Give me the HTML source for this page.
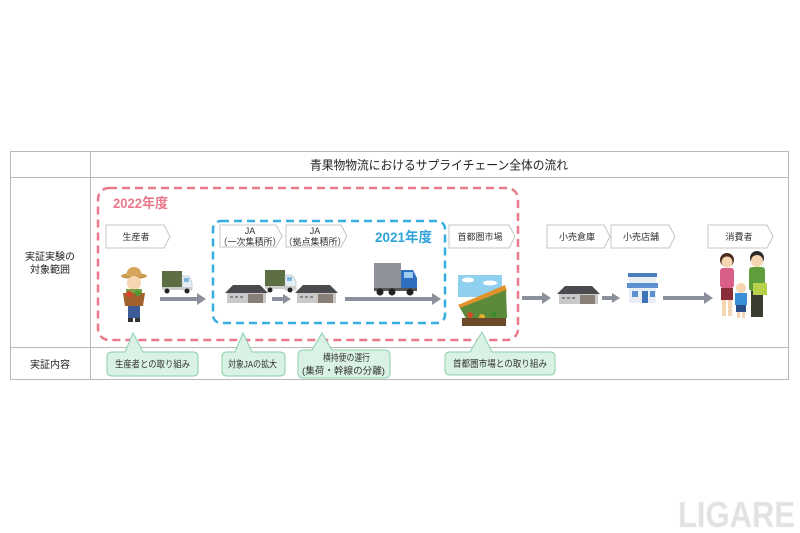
<!DOCTYPE html>
<html><head><meta charset="utf-8">
<style>
html,body{margin:0;padding:0;background:#fff;}
svg{display:block;}
text{font-family:"Liberation Sans","Noto Sans CJK JP",sans-serif;}
</style></head>
<body>
<svg width="800" height="533" viewBox="0 0 800 533" xmlns="http://www.w3.org/2000/svg">
<rect width="800" height="533" fill="#fff"/>
<!-- table -->
<g stroke="#b8b8b8" stroke-width="1" fill="none">
<rect x="10.5" y="151.5" width="778" height="228"/>
<line x1="90.5" y1="151.5" x2="90.5" y2="379.5"/>
<line x1="10.5" y1="177.5" x2="788.5" y2="177.5"/>
<line x1="10.5" y1="347.5" x2="788.5" y2="347.5"/>
</g>
<text x="310" y="169.5" font-size="12.5" fill="#222" textLength="258" lengthAdjust="spacingAndGlyphs">青果物物流におけるサプライチェーン全体の流れ</text>
<text x="50" y="260" font-size="10" text-anchor="middle" fill="#222">実証実験の</text>
<text x="50" y="273" font-size="10" text-anchor="middle" fill="#222">対象範囲</text>
<text x="50" y="368" font-size="10" text-anchor="middle" fill="#222">実証内容</text>

<!-- dashed boxes -->
<rect x="98" y="188" width="420" height="152" rx="11" fill="none" stroke="#e9798b" stroke-width="2.5" stroke-dasharray="8 5"/>
<rect x="213" y="221" width="232" height="102" rx="8" fill="none" stroke="#37ade0" stroke-width="2.5" stroke-dasharray="8 5"/>
<text x="113" y="208" font-size="14" font-weight="bold" fill="#e9798b" textLength="55" lengthAdjust="spacingAndGlyphs">2022年度</text>
<text x="375" y="242" font-size="14" font-weight="bold" fill="#2fa3da" textLength="57" lengthAdjust="spacingAndGlyphs">2021年度</text>

<!-- chevron labels -->
<g fill="#fff" stroke="#c4c4c4" stroke-width="1">
<polygon points="106,225 164,225 170,236.5 164,248 106,248"/>
<polygon points="220,225 276,225 282,236 276,247 220,247"/>
<polygon points="286,225 341,225 347,236 341,247 286,247"/>
<polygon points="449,225 509,225 515,236.5 509,248 449,248"/>
<polygon points="547,225 604,225 610,236.5 604,248 547,248"/>
<polygon points="611,225 669,225 675,236.5 669,248 611,248"/>
<polygon points="708,225 767,225 773,236.5 767,248 708,248"/>
</g>
<g font-size="9" text-anchor="middle" fill="#333">
<text x="136" y="240">生産者</text>
<text x="250" y="234">JA</text>
<text x="250" y="245">（一次集積所）</text>
<text x="315" y="234">JA</text>
<text x="315" y="245">（拠点集積所）</text>
<text x="480" y="240">首都圏市場</text>
<text x="577" y="240">小売倉庫</text>
<text x="641" y="240">小売店舗</text>
<text x="739" y="240">消費者</text>
</g>

<!-- arrows -->
<g stroke="#8c8f9c" stroke-width="4">
<line x1="160" y1="299" x2="198" y2="299"/>
<line x1="272" y1="299" x2="284" y2="299"/>
<line x1="345" y1="299" x2="433" y2="299"/>
<line x1="522" y1="298" x2="543" y2="298"/>
<line x1="602" y1="298" x2="613" y2="298"/>
<line x1="663" y1="298" x2="705" y2="298"/>
</g>
<g fill="#8c8f9c">
<polygon points="197,293 206,299 197,305"/>
<polygon points="283,294 291,299 283,304"/>
<polygon points="432,293 441,299 432,305"/>
<polygon points="542,292 551,298 542,304"/>
<polygon points="612,293 620,298 612,303"/>
<polygon points="704,292 713,298 704,304"/>
</g>

<!-- farmer -->
<g>
<ellipse cx="134" cy="276" rx="13" ry="3" fill="#c8964c"/>
<path d="M126,276 Q127,267 134,267 Q141,267 142,276 Z" fill="#d4a55a"/>
<circle cx="134" cy="283" r="7" fill="#f6d6b0"/>
<rect x="126" y="289" width="16" height="8" fill="#7aa349"/>
<path d="M123,293 L145,293 L143,306 L125,306 Z" fill="#a0612d"/>
<circle cx="129" cy="294" r="3" fill="#d9432b"/>
<circle cx="138" cy="293" r="3" fill="#4f9a35"/>
<rect x="128" y="306" width="12" height="12" fill="#3c5b98"/>
<rect x="128" y="318" width="5" height="4" fill="#333"/>
<rect x="135" y="318" width="5" height="4" fill="#333"/>
</g>
<!-- small truck 1 -->
<g>
<rect x="162" y="271" width="20" height="16" fill="#5d6f42"/>
<path d="M182,276 L189,276 L192,282 L192,290 L182,290 Z" fill="#e6eef5" stroke="#9aa" stroke-width="0.5"/>
<rect x="184" y="278" width="5" height="4" fill="#7fb6dd"/>
<rect x="162" y="287" width="30" height="3" fill="#ccc"/>
<circle cx="167" cy="291" r="2.5" fill="#222"/><circle cx="187" cy="291" r="2.5" fill="#222"/>
</g>
<!-- warehouses -->
<g id="wh">
<polygon points="225,293 233,285 260,285 268,293" fill="#4a4a4f"/>
<rect x="227" y="293" width="39" height="10" fill="#c9c9c9"/>
<rect x="248" y="294" width="15" height="9" fill="#8a7f77"/>
<rect x="230" y="296" width="3" height="2" fill="#888"/><rect x="235" y="296" width="3" height="2" fill="#888"/><rect x="240" y="296" width="3" height="2" fill="#888"/>
</g>
<use href="#wh" x="70"/>
<use href="#wh" x="332" y="1"/>
<!-- small truck 2 -->
<g>
<rect x="265" y="270" width="20" height="16" fill="#5d6f42"/>
<path d="M285,275 L292,275 L296,281 L296,290 L285,290 Z" fill="#e6eef5" stroke="#9aa" stroke-width="0.5"/>
<rect x="287" y="277" width="5" height="4" fill="#7fb6dd"/>
<rect x="265" y="286" width="31" height="3" fill="#ccc"/>
<circle cx="270" cy="290" r="2.5" fill="#222"/><circle cx="290" cy="290" r="2.5" fill="#222"/>
</g>
<!-- big truck -->
<g>
<rect x="374" y="263" width="27" height="25" fill="#8d929b"/>
<path d="M401,270 L413,270 L417,278 L417,291 L401,291 Z" fill="#2f6fc0"/>
<rect x="404" y="272" width="9" height="6" fill="#9ccbee"/>
<rect x="374" y="288" width="43" height="3" fill="#555"/>
<circle cx="380" cy="292" r="3.5" fill="#222"/><circle cx="392" cy="292" r="3.5" fill="#222"/><circle cx="410" cy="292" r="3.5" fill="#222"/>
</g>
<!-- market -->
<g>
<rect x="458" y="275" width="44" height="22" fill="#8fd0ee"/>
<ellipse cx="468" cy="280" rx="6" ry="2.5" fill="#fff"/>
<ellipse cx="490" cy="283" rx="7" ry="2.5" fill="#fff"/>
<polygon points="458,305 505,285 507,291 462,311" fill="#e0922c"/>
<polygon points="460,308 506,290 507,318 468,322" fill="#5d8a3a"/>
<circle cx="470" cy="315" r="3" fill="#d24a2a"/><circle cx="482" cy="317" r="3" fill="#e5b12a"/><circle cx="494" cy="314" r="3" fill="#3d8a2f"/>
<rect x="462" y="318" width="44" height="8" fill="#6b4a2a"/>
</g>
<!-- store -->
<g>
<rect x="628" y="273" width="29" height="4" fill="#4a7fbf"/>
<rect x="629" y="277" width="27" height="26" fill="#e8eef4"/>
<rect x="627" y="283" width="31" height="5" fill="#5b8fd0"/>
<rect x="632" y="291" width="6" height="6" fill="#5b8fd0"/>
<rect x="642" y="291" width="6" height="12" fill="#3f75b8"/>
<rect x="650" y="291" width="5" height="6" fill="#5b8fd0"/>
</g>
<!-- family -->
<g>
<circle cx="727" cy="260" r="7" fill="#4a2b1e"/>
<circle cx="727" cy="262" r="5.5" fill="#f6d6b0"/>
<rect x="720" y="268" width="14" height="20" rx="3" fill="#d95f8a"/>
<rect x="721" y="288" width="12" height="12" fill="#8a2d3a"/>
<rect x="722" y="300" width="4" height="16" fill="#f6d6b0"/><rect x="728" y="300" width="4" height="16" fill="#f6d6b0"/>
<circle cx="741" cy="288" r="5" fill="#f6d6b0"/>
<rect x="735" y="293" width="12" height="12" fill="#3b8fd6"/>
<rect x="736" y="305" width="10" height="7" fill="#2a4f86"/>
<rect x="737" y="312" width="3" height="6" fill="#f6d6b0"/><rect x="742" y="312" width="3" height="6" fill="#f6d6b0"/>
<circle cx="757" cy="258" r="7" fill="#2b2b2b"/>
<circle cx="757" cy="261" r="6" fill="#f6d6b0"/>
<rect x="749" y="267" width="16" height="24" rx="3" fill="#5e9e3c"/>
<rect x="751" y="291" width="12" height="26" fill="#3c3c30"/>
<rect x="753" y="283" width="14" height="12" fill="#b7d14a"/>
</g>

<!-- callouts -->
<g fill="#d9f2e5" stroke="#8ccfab" stroke-width="1">
<path d="M112,352 H125 L133,333 L143,352 H193 Q198,352 198,357 V371 Q198,376 193,376 H112 Q107,376 107,371 V357 Q107,352 112,352 Z"/>
<path d="M227,352 H235 L243,333 L252,352 H280 Q285,352 285,357 V371 Q285,376 280,376 H227 Q222,376 222,371 V357 Q222,352 227,352 Z"/>
<path d="M303,350 H312 L322,333 L332,350 H385 Q390,350 390,355 V373 Q390,378 385,378 H303 Q298,378 298,373 V355 Q298,350 303,350 Z"/>
<path d="M450,352 H470 L482,332 L492,352 H550 Q555,352 555,357 V370 Q555,375 550,375 H450 Q445,375 445,370 V357 Q445,352 450,352 Z"/>
</g>
<g font-size="9.5" fill="#333">
<text x="115" y="367.5" textLength="75" lengthAdjust="spacingAndGlyphs">生産者との取り組み</text>
<text x="228" y="367.5" textLength="49" lengthAdjust="spacingAndGlyphs">対象JAの拡大</text>
<text x="323" y="361" textLength="47" lengthAdjust="spacingAndGlyphs">横持便の運行</text>
<text x="302" y="374" textLength="83" lengthAdjust="spacingAndGlyphs">(集荷・幹線の分離)</text>
<text x="453" y="367" textLength="94" lengthAdjust="spacingAndGlyphs">首都圏市場との取り組み</text>
</g>

<!-- watermark -->
<text x="678" y="527" font-size="36" font-weight="bold" fill="#e2e2e2" stroke="#f0f0f0" stroke-width="0.5" textLength="117" lengthAdjust="spacingAndGlyphs">LIGARE</text>
</svg>
</body></html>
